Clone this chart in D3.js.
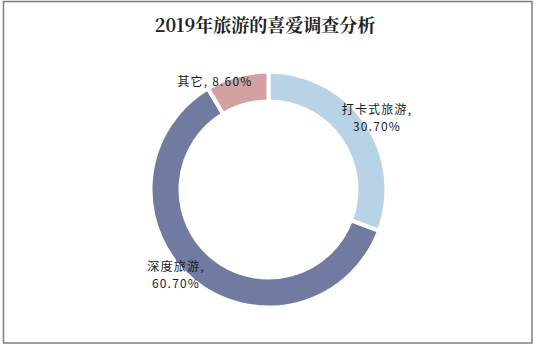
<!DOCTYPE html>
<html><head><meta charset="utf-8">
<script src="https://cdn.jsdelivr.net/npm/d3@7/dist/d3.min.js"></script>
<style>html,body{margin:0;padding:0;background:#fff;}svg{display:block;}</style>
</head><body>
<script>
const title = "2019年旅游的喜爱调查分析";
const categories = ["打卡式旅游", "深度旅游", "其它"];
const values = [30.7, 60.7, 8.6];
const colors = ["#b7d3e5", "#717ba2", "#d4a1a3"];

const W = 536, H = 347;
const svg = d3.select("body").append("svg").attr("width", W).attr("height", H);
svg.append("rect").attr("x", 3.5).attr("y", 1.5).attr("width", 528.5).attr("height", 341.5)
  .attr("fill", "#fff").attr("stroke", "#7f7f7f").attr("stroke-width", 1.5);

svg.append("text").attr("x", 265).attr("y", 32).attr("text-anchor", "middle")
  .attr("font-family", "'Noto Serif CJK SC','Noto Sans CJK SC',serif").attr("font-weight", "bold")
  .attr("font-size", 18).attr("fill", "#222").text(title);

const cx = 268.5, cy = 189.5, R = 118, r = 88;
const data = categories.map((c, i) => ({cat: c, value: values[i], color: colors[i]}));
const pie = d3.pie().value(d => d.value).sort(null);
const arc = d3.arc().innerRadius(r).outerRadius(R);
const g = svg.append("g").attr("transform", `translate(${cx},${cy})`);
const arcs = pie(data);
g.selectAll("path").data(arcs).join("path")
  .attr("d", arc).attr("fill", d => d.data.color)
  .attr("stroke", "#fff").attr("stroke-width", 4);

const fmt = v => v.toFixed(2) + "%";
const font = "'Noto Sans CJK SC',sans-serif";
function label(x, y, lines, anchor) {
  lines.forEach((l, i) => svg.append("text").attr("font-family", font).attr("font-size", 12)
    .attr("letter-spacing", 1.2).attr("fill", "#1a1a1a").attr("text-anchor", anchor)
    .attr("x", x).attr("y", y + i * 16.5).text(l));
}
label(377, 114, [data[0].cat + ",", fmt(data[0].value)], "middle");
label(176, 271, [data[1].cat + ",", fmt(data[1].value)], "middle");
label(215, 86, [data[2].cat + ", " + fmt(data[2].value)], "middle");
</script>
</body></html>
